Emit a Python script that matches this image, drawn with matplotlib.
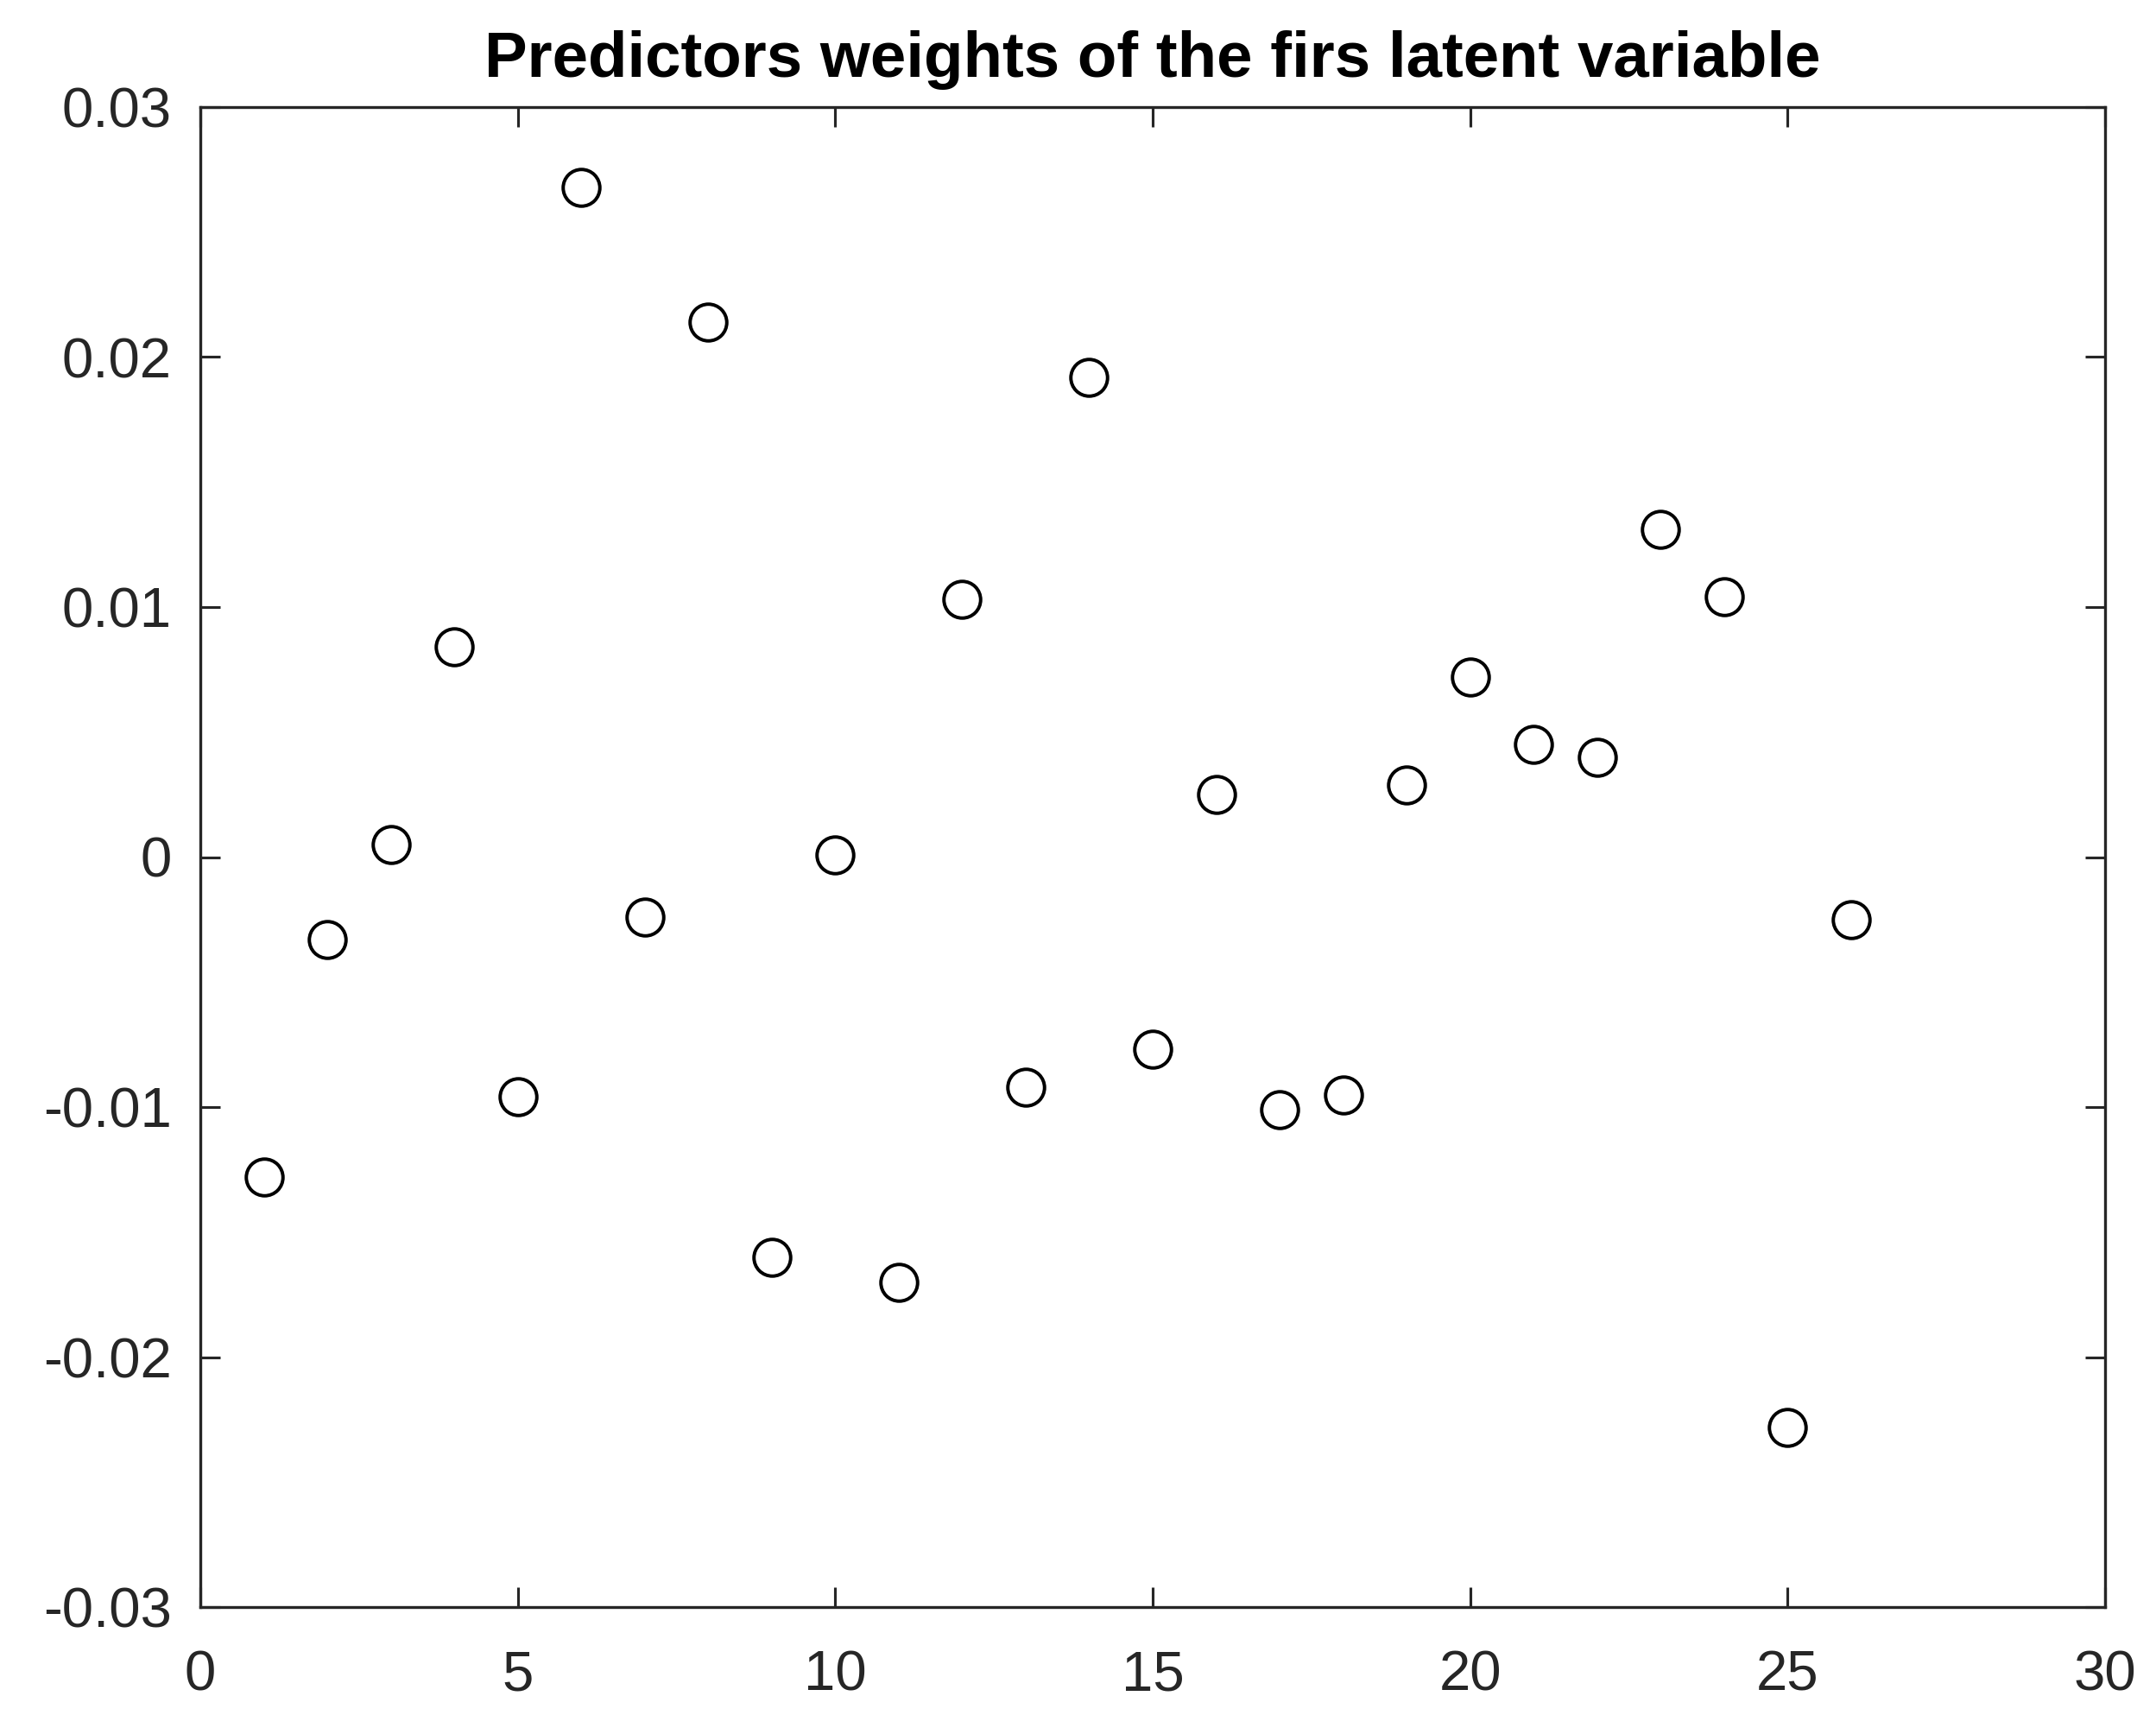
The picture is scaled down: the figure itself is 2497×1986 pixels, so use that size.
import matplotlib
matplotlib.use("Agg")
import matplotlib.pyplot as plt

x_index = list(range(1, 27))
weights = [-0.0128, -0.0033, 0.0005, 0.0084, -0.0096, 0.0268, -0.0024, 0.0214,
           -0.0160, 0.0001, -0.0170, 0.0103, -0.0092, 0.0192, -0.0077, 0.0025,
           -0.0101, -0.0095, 0.0029, 0.0072, 0.0045, 0.0040, 0.0131, 0.0104,
           -0.0228, -0.0025]
xticks = [0, 5, 10, 15, 20, 25, 30]
yticks = [-0.03, -0.02, -0.01, 0, 0.01, 0.02, 0.03]
ytick_labels = ["-0.03", "-0.02", "-0.01", "0", "0.01", "0.02", "0.03"]
title = "Predictors weights of the firs latent variable"

plt.rcParams['font.family'] = ['Liberation Sans', 'DejaVu Sans']
axc = '#262626'
fig = plt.figure(figsize=(2497/300, 1986/300), dpi=300)
ax = fig.add_axes([232/2497, 1-1861/1986, (2438-232)/2497, (1861-124)/1986])
ax.plot(x_index, weights, linestyle='none', marker='o', markersize=10.2,
        markerfacecolor='none', markeredgecolor='black', markeredgewidth=0.95)
ax.set_xlim(0, 30)
ax.set_ylim(-0.03, 0.03)
ax.set_xticks(xticks)
ax.set_xticklabels([str(t) for t in xticks])
ax.set_yticks(yticks)
ax.set_yticklabels(ytick_labels)
ax.tick_params(direction='in', length=5.5, width=0.75, color=axc, labelcolor=axc,
               labelsize=15.7, top=True, right=True)
ax.tick_params(axis='x', pad=12)
ax.tick_params(axis='y', pad=8)
for s in ax.spines.values():
    s.set_linewidth(0.8)
    s.set_color(axc)
ax.set_title(title, fontsize=17.9, fontweight='bold', pad=8.5)
fig.savefig("out.png", dpi=300)
